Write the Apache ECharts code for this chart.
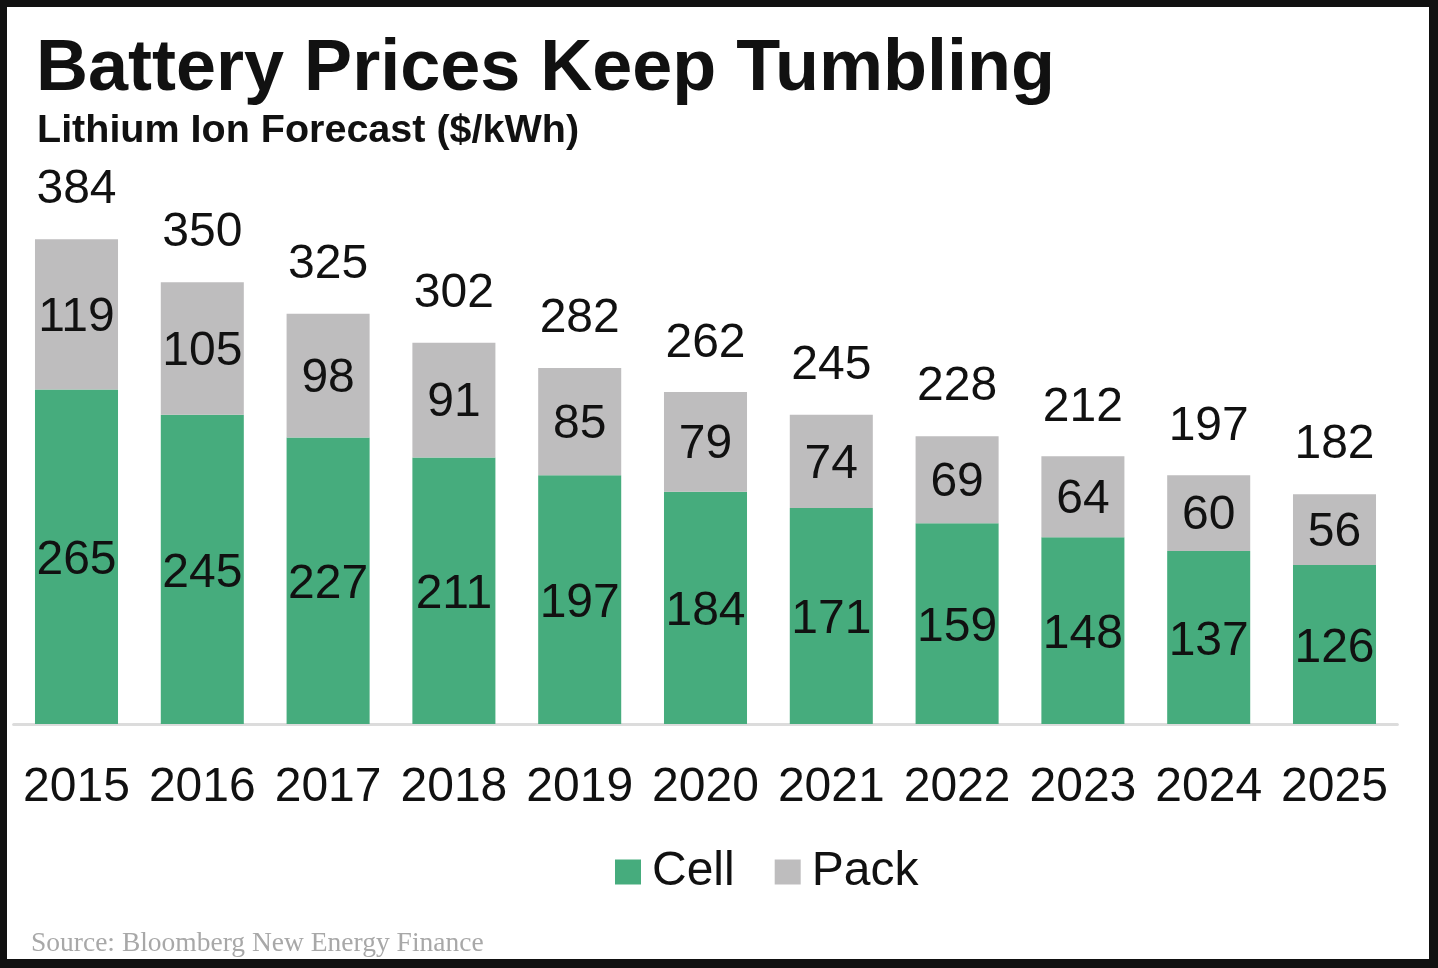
<!DOCTYPE html>
<html>
<head>
<meta charset="utf-8">
<script src="https://cdn.jsdelivr.net/npm/echarts@6/dist/echarts.min.js"></script>
<style>
    html, body { margin: 0; padding: 0; background: #111111; }
    #chart-container { position: absolute; left: 7px; top: 7px; width: 1422px; height: 952px; background: #ffffff; }
</style>
</head>
<body>
<div id="chart-container"></div>
<script>
var years = ['2015', '2016', '2017', '2018', '2019', '2020', '2021', '2022', '2023', '2024', '2025'];
var cell = [265, 245, 227, 211, 197, 184, 171, 159, 148, 137, 126];
var pack = [119, 105, 98, 91, 85, 79, 74, 69, 64, 60, 56];
var totals = [384, 350, 325, 302, 282, 262, 245, 228, 212, 197, 182];

var dom = document.getElementById('chart-container');
var myChart = echarts.init(dom, null, { renderer: 'canvas' });

var labelFont = 'Liberation Sans, Arial, sans-serif';

var option = {
    animation: false,
    title: [
        {
            text: 'Battery Prices Keep Tumbling',
            left: 24,
            top: 22,
            textStyle: { fontFamily: labelFont, fontWeight: 'bold', fontSize: 72, color: '#111111' }
        },
        {
            text: 'Lithium Ion Forecast ($/kWh)',
            left: 25,
            top: 99,
            textStyle: { fontFamily: labelFont, fontWeight: 'bold', fontSize: 39.5, color: '#111111' }
        },
        {
            text: 'Source: Bloomberg New Energy Finance',
            left: 19,
            top: 918,
            textStyle: { fontFamily: 'Liberation Serif, DejaVu Serif, serif', fontWeight: 'normal', fontSize: 27.5, color: '#a8a8a8' }
        }
    ],
    legend: {
        data: ['Cell', 'Pack'],
        left: 603,
        top: 836,
        itemWidth: 26,
        itemHeight: 25,
        itemGap: 40,
        icon: 'rect',
        textStyle: { fontFamily: labelFont, fontSize: 48, color: '#111111', padding: [0, 0, 0, 6] }
    },
    grid: {
        left: 6.6,
        right: 31.6,
        top: 212,
        bottom: 235,
        containLabel: false
    },
    xAxis: {
        type: 'category',
        data: years,
        axisLine: { show: true, lineStyle: { color: '#dcdcdc', width: 3 } },
        axisTick: { show: false },
        axisLabel: { interval: 0, fontFamily: labelFont, fontSize: 48, color: '#111111', margin: 40 }
    },
    yAxis: {
        type: 'value',
        min: 0,
        max: 400,
        show: false,
        splitLine: { show: false }
    },
    series: [
        {
            name: 'Cell',
            type: 'bar',
            stack: 'price',
            barWidth: '66%',
            data: cell,
            itemStyle: { color: '#46ac7d' },
            label: { show: true, position: 'inside', offset: [0, 4], fontFamily: labelFont, fontSize: 48, color: '#111111' }
        },
        {
            name: 'Pack',
            type: 'bar',
            stack: 'price',
            barWidth: '66%',
            data: pack,
            itemStyle: { color: '#bebdbe' },
            label: { show: true, position: 'inside', offset: [0, 3], fontFamily: labelFont, fontSize: 48, color: '#111111' }
        },
        {
            name: 'Total',
            type: 'bar',
            barWidth: '66%',
            barGap: '-100%',
            data: totals,
            z: 1,
            silent: true,
            itemStyle: { color: 'rgba(0,0,0,0)' },
            label: { show: true, position: 'top', distance: 25, fontFamily: labelFont, fontSize: 48, color: '#111111' }
        }
    ]
};

myChart.setOption(option);
window.addEventListener('resize', myChart.resize);
</script>
</body>
</html>
